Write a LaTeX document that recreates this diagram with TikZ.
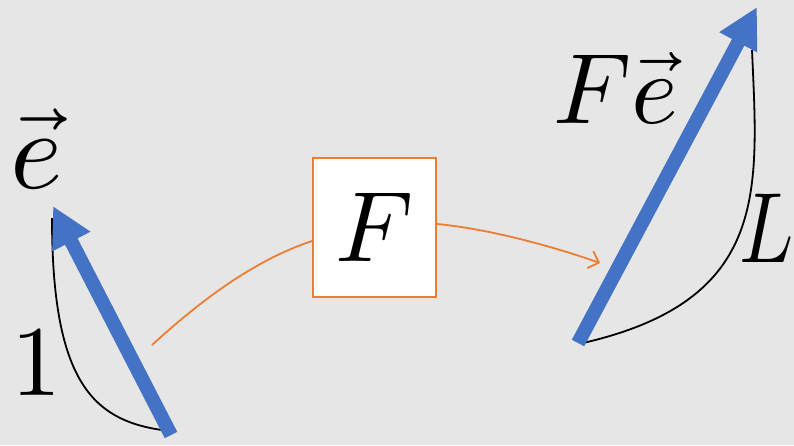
\documentclass[tikz,border=0pt]{standalone}
\usepackage{unicode-math}
\usetikzlibrary{arrows.meta}
\definecolor{bg}{RGB}{230,230,230}
\definecolor{vblue}{RGB}{68,114,196}
\definecolor{vorange}{RGB}{237,125,49}
\begin{document}
\begin{tikzpicture}[x=1pt,y=-1pt,
  vecarrow/.style={vblue,line width=14pt,-{Triangle[length=40pt,width=40pt]}},
  lencurve/.style={black,line width=1.8pt},
  flow/.style={vorange,line width=1.8pt},
  flowtip/.style={flow,-{Straight Barb[length=9pt,width=18pt]}},
  lbl/.style={inner sep=0pt,anchor=base west,font=\fontsize{100pt}{100pt}\selectfont},
  mapbox/.style={draw=vorange,line width=2pt,fill=white,minimum width=123pt,minimum height=139pt,inner sep=0pt,font=\fontsize{100pt}{100pt}\selectfont}]
\fill[bg] (0,0) rectangle (794,445);
\useasboundingbox (0,0) rectangle (794,445);
% coordinates
\coordinate (e0) at (171,435);
\coordinate (e1) at (53,206);
\coordinate (f0) at (578,343);
\coordinate (f1) at (757,7);
\coordinate (ea) at (52,218);
\coordinate (eb) at (162,430);
\coordinate (fa) at (583,343);
\coordinate (fb) at (752,50);
\coordinate (s) at (152,345);
\coordinate (t) at (600,263);
% box
\node[mapbox] (box) at (374.5,227.5) {$F$};
% black curves
\draw[lencurve] (ea) .. controls (52,380) and (92,420) .. (eb);
\draw[lencurve] (fa) .. controls (770,300) and (758,190) .. (fb);
% blue vectors
\draw[vecarrow] (e0) -- (e1);
\draw[vecarrow] (f0) -- (f1);
% orange flow
\draw[flow] (s) .. controls (198,303) and (252,261) .. ([yshift=-13.5pt]box.west);
\draw[flowtip] ([yshift=3.5pt]box.east) .. controls (480,228) and (540,242) .. (t);
% labels
\node[lbl,font=\fontsize{112pt}{112pt}\selectfont] (le) at (10,188) {$\vec{e}$};
\node[lbl] (lone) at (11,395) {$1$};
\node[lbl] (lfe) at (553,123) {$F\vec{e}$};
\node[lbl] (ll) at (739,262) {\scalebox{0.8}[1]{$L$}};
\end{tikzpicture}
\end{document}
